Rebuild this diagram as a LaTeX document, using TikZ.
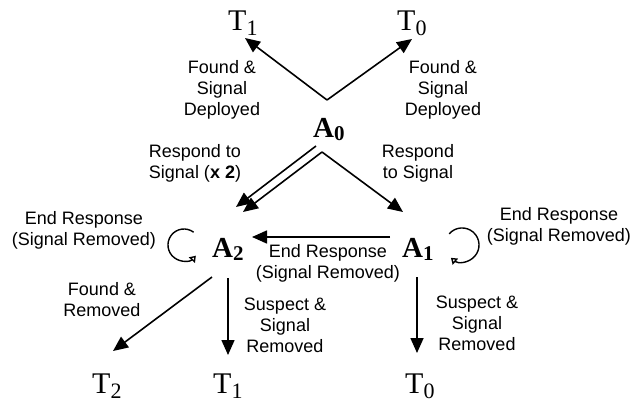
\documentclass[tikz,border=0pt]{standalone}
\usepackage{fontspec}
\setmainfont{Liberation Sans}
\newfontfamily\tmsfont{Liberation Serif}
\usetikzlibrary{arrows.meta,calc}
\newcommand\tsym[1]{{\tmsfont\fontsize{30}{30}\selectfont T\raisebox{-5pt}{\fontsize{22}{22}\selectfont #1}}}
\newcommand\asym[1]{{\tmsfont\bfseries\fontsize{29}{29}\selectfont A\raisebox{-3pt}{\fontsize{21}{21}\selectfont #1}}}
\begin{document}
\begin{tikzpicture}[x=1pt,y=-1pt,
  lbl/.style={font=\fontsize{18}{21}\selectfont, align=center, inner sep=0pt, anchor=base},
  sym/.style={inner sep=0pt, anchor=base west},
  arr/.style={line width=1.6pt, -{Triangle[length=15pt,width=13pt]}},
  loopy/.style={line width=1.4pt, -{Triangle[open,length=6pt,width=8pt]}}]
\useasboundingbox (0,0) rectangle (632,402);
% states
\node[sym] (T1t) at (228,30) {\tsym{1}};
\node[sym] (T0t) at (397,30) {\tsym{0}};
\node[sym] (A0) at (313,137) {\asym{0}};
\node[sym] (A2) at (212,257) {\asym{2}};
\node[sym] (A1) at (402,257) {\asym{1}};
\node[sym] (T2b) at (92,393) {\tsym{2}};
\node[sym] (T1b) at (213,393) {\tsym{1}};
\node[sym] (T0b) at (405,393) {\tsym{0}};
% connector end points
\coordinate (apex) at (327,100);
\coordinate (t1in) at (245,38);
\coordinate (t0in) at (412,39);
\coordinate (dA) at (316,146);
\coordinate (dB) at (322,152);
\coordinate (dAe) at (236,207);
\coordinate (dBe) at (243,212);
\coordinate (a1in) at (403,212);
\coordinate (hs) at (390,237);
\coordinate (he) at (252,237);
\coordinate (bl1) at (212,277);
\coordinate (bl2) at (113,351);
\coordinate (bm1) at (228,278);
\coordinate (bm2) at (228,355);
\coordinate (br1) at (417,277);
\coordinate (br2) at (417,353);
% connectors
\draw[arr] (apex) -- (t1in);
\draw[arr] (apex) -- (t0in);
\draw[arr] (dA) -- (dAe);
\draw[arr] (dB) -- (dBe);
\draw[arr] (dB) -- (a1in);
\draw[arr] (hs) -- (he);
\draw[arr] (bl1) -- (bl2);
\draw[arr] (bm1) -- (bm2);
\draw[arr] (br1) -- (br2);
% self loops
\draw[loopy] (193.6,232.2) arc[start angle=-53, end angle=-318, radius=16];
\draw[loopy] (449.2,233.8) arc[start angle=-139, end angle=131, radius=17];
% labels (anchored at the baseline of their last line)
\node[lbl] (lTL) at (222,115) {Found \&\\Signal\\Deployed};
\node[lbl] (lTR) at (443,115) {Found \&\\Signal\\Deployed};
\node[lbl] (lRL) at (195,178) {Respond to\\Signal (\textbf{x 2})};
\node[lbl] (lRR) at (418,178) {Respond\\to Signal};
\node[lbl] (lEL) at (84,245) {End Response\\(Signal Removed)};
\node[lbl] (lER) at (559,241) {End Response\\(Signal Removed)};
\node[lbl] (lEM) at (328,278) {End Response\\(Signal Removed)};
\node[lbl] (lFR) at (102,316) {Found \&\\Removed};
\node[lbl] (lS1) at (285,352) {Suspect \&\\Signal\\Removed};
\node[lbl] (lS0) at (477,350) {Suspect \&\\Signal\\Removed};
\end{tikzpicture}
\end{document}
